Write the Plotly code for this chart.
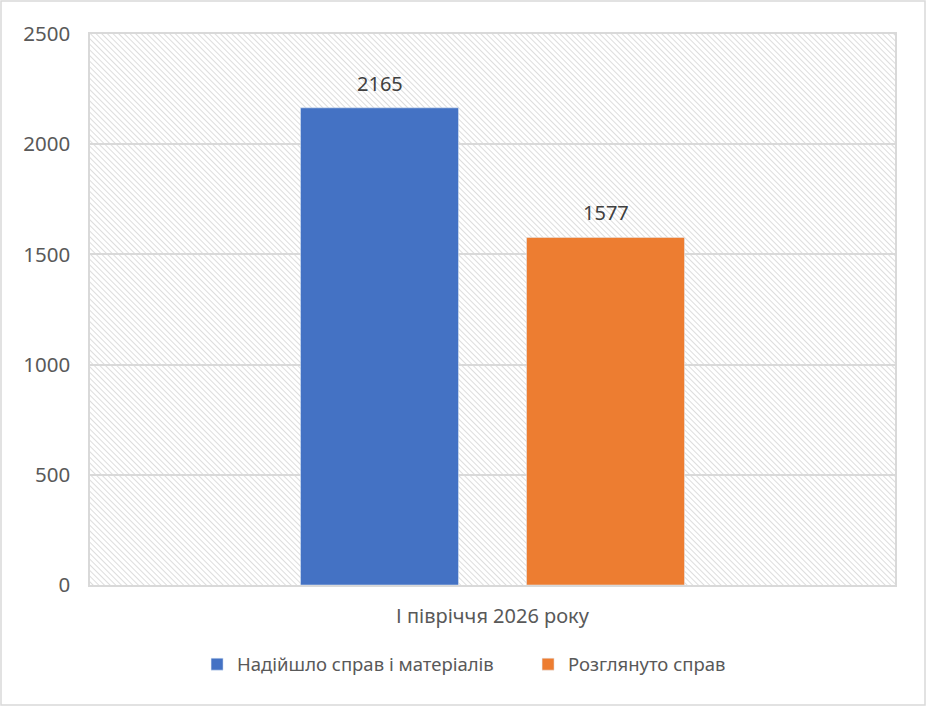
import base64
import plotly.graph_objects as go

categories = ["І півріччя 2026 року"]
received = [2165]
reviewed = [1577]
series_names = ["Надійшло справ і матеріалів", "Розглянуто справ"]
y_ticks = [0, 500, 1000, 1500, 2000, 2500]

W, H = 927, 707
margin = dict(l=90, r=32, t=34, b=122)
plot_w = W - margin['l'] - margin['r']
plot_h = H - margin['t'] - margin['b']

# hatched background of the plot area, as an svg image
svg = f'''<svg xmlns="http://www.w3.org/2000/svg" width="{plot_w}" height="{plot_h}">
<defs><pattern id="p" width="4" height="4" patternUnits="userSpaceOnUse" patternTransform="rotate(-45)">
<line x1="0" y1="0" x2="0" y2="4" stroke="#d4d4d4" stroke-width="1.6"/></pattern></defs>
<rect width="100%" height="100%" fill="white"/>
<rect width="100%" height="100%" fill="url(#p)"/></svg>'''
svg_uri = "data:image/svg+xml;base64," + base64.b64encode(svg.encode()).decode()

font = "Noto Sans, Open Sans, sans-serif"
grey = "#595959"

fig = go.Figure()
fig.add_trace(go.Bar(x=categories, y=received, name=series_names[0],
                     marker_color="#4472C4"))
fig.add_trace(go.Bar(x=categories, y=reviewed, name=series_names[1],
                     marker_color="#ED7D31"))

# value labels, raised above the bar tops like in the original
for vals, shift in [(received, -113), (reviewed, 113)]:
    for c, v in zip(categories, vals):
        fig.add_annotation(x=c, y=v, text=str(v), showarrow=False, xshift=shift,
                           yanchor="bottom", yshift=9,
                           font=dict(size=20, color="#404040"))

fig.add_layout_image(dict(source=svg_uri, xref="paper", yref="paper", x=0, y=1,
                          sizex=1, sizey=1, sizing="stretch", layer="below",
                          xanchor="left", yanchor="top"))

# outer chart border
fig.add_shape(type="rect", xref="paper", yref="paper",
              x0=(1 - margin['l']) / plot_w, x1=1 + (margin['r'] - 2) / plot_w,
              y0=(2 - margin['b']) / plot_h, y1=1 + (margin['t'] - 1) / plot_h,
              line=dict(color="#d9d9d9", width=1.5), layer="below")

fig.update_layout(
    width=W, height=H, margin=margin,
    barmode="group", bargap=0.4385, bargroupgap=0.301,
    paper_bgcolor="white", plot_bgcolor="rgba(0,0,0,0)",
    font=dict(family=font, size=20, color=grey),
    showlegend=True,
    legend=dict(orientation="h", x=0.133, xanchor="left", y=-0.11, yanchor="top",
                font=dict(size=18.5, color=grey), itemwidth=30, traceorder="normal",
                entrywidth=286, entrywidthmode="pixels"),
    xaxis=dict(showgrid=False, showline=True, linecolor="#d9d9d9", linewidth=1.5,
               mirror=True, ticks="", ticklabelstandoff=12,
               tickfont=dict(size=20, color=grey)),
    yaxis=dict(range=[0, 2500], tickvals=y_ticks, showgrid=True, gridcolor="#d9d9d9",
               gridwidth=1.5, showline=True, linecolor="#d9d9d9", linewidth=1.5,
               mirror=True, zeroline=False, ticks="", ticklabelstandoff=14,
               tickfont=dict(size=20.5, color=grey)),
)

fig.write_html("out.html", config={"displayModeBar": False},
               post_script="document.body.style.margin='0';")
